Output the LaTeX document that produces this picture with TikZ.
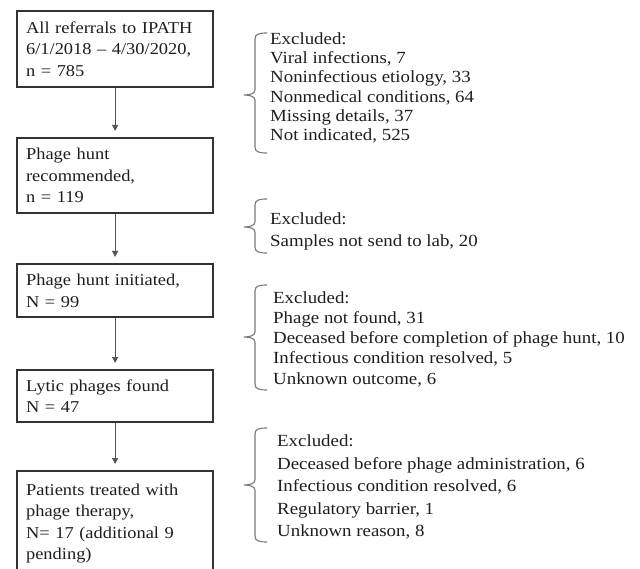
\documentclass[tikz,border=0pt]{standalone}
\usepackage{fontspec}
\setmainfont{Liberation Serif}[FakeStretch=1.11]
\usetikzlibrary{arrows.meta}
\definecolor{boxc}{HTML}{333333}
\definecolor{txtc}{HTML}{1E1E1E}
\definecolor{brc}{HTML}{7A7A7A}
\definecolor{arrc}{HTML}{555555}
\newcommand{\exclbrace}[3]{%
  \draw[brk] (267,#1) .. controls (259,#1) and (255,{#1+1}) .. (255,{#1+6})
    -- (255,{#2-5}) .. controls (255,{#2-2}) and (251,#2) .. (244,#2)
    .. controls (251,#2) and (255,{#2+2}) .. (255,{#2+5})
    -- (255,{#3-6}) .. controls (255,{#3-1}) and (259,#3) .. (267,#3);}
\begin{document}
\begin{tikzpicture}[x=1pt,y=-1pt,
  box/.style={draw=boxc, line width=2.2pt, text=txtc, anchor=north west,
    text width=178pt, inner xsep=9pt, inner ysep=0pt, align=left,
    font=\fontsize{16.6}{21.5}\selectfont},
  exl/.style={text=txtc, anchor=west, align=left, inner sep=0pt},
  brk/.style={draw=brc, line width=1.1pt},
  arr/.style={draw=arrc, line width=1pt, -{Triangle[length=6pt,width=6pt]}, shorten >=6pt}]
\useasboundingbox (0,0) rectangle (640,569);
\clip (0,0) rectangle (640,569);
\node[box, minimum height=76pt] (b1) at (16,10) {All referrals to IPATH\\6/1/2018 -- 4/30/2020,\\n = 785};
\node[box, minimum height=75pt] (b2) at (16,137) {Phage hunt\\recommended,\\n = 119};
\node[box, minimum height=53pt] (b3) at (16,263) {Phage hunt initiated,\\N = 99};
\node[box, minimum height=52pt] (b4) at (16,369) {Lytic phages found\\N = 47};
\node[box, minimum height=105pt] (b5) at (16,470) {Patients treated with\\phage therapy,\\N= 17 (additional 9\\pending)};
\draw[arr] (b1.south) -- (b2.north);
\draw[arr] (b2.south) -- (b3.north);
\draw[arr] (b3.south) -- (b4.north);
\draw[arr] (b4.south) -- (b5.north);
\exclbrace{33}{95}{153}
\exclbrace{199}{227}{253}
\exclbrace{285}{337}{390}
\exclbrace{428}{485}{542}
\node[exl, font=\fontsize{17}{19.2}\selectfont] (e1) at (270,88) {Excluded:\\Viral infections, 7\\Noninfectious etiology, 33\\Nonmedical conditions, 64\\Missing details, 37\\Not indicated, 525};
\node[exl, font=\fontsize{17}{22}\selectfont] (e2) at (270,231) {Excluded:\\Samples not send to lab, 20};
\node[exl, font=\fontsize{17}{20.25}\selectfont] (e3) at (273,339) {Excluded:\\Phage not found, 31\\Deceased before completion of phage hunt, 10\\Infectious condition resolved, 5\\Unknown outcome, 6};
\node[exl, font=\fontsize{17}{22.5}\selectfont] (e4) at (277,487) {Excluded:\\Deceased before phage administration, 6\\Infectious condition resolved, 6\\Regulatory barrier, 1\\Unknown reason, 8};
\end{tikzpicture}
\end{document}
